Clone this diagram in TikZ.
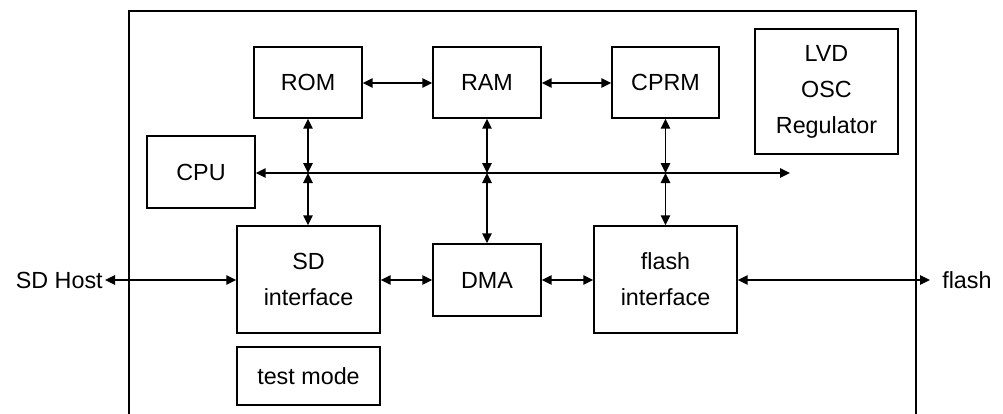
\documentclass[tikz,border=0pt]{standalone}
\usepackage{fontspec}
\setmainfont{Liberation Sans}
\usetikzlibrary{arrows.meta}
\usetikzlibrary{positioning}

\tikzset{
  blk/.style={draw, line width=1.1pt, align=center, inner sep=0pt,
    font=\fontsize{17.5}{27}\selectfont},
  lbl/.style={inner sep=0pt, font=\fontsize{17.5}{27}\selectfont},
  bus/.style={line width=1.2pt, {Triangle[length=7.5pt,width=7pt]}-{Triangle[length=7.5pt,width=7pt]}},
}

\begin{document}
\begin{tikzpicture}[x=0.75pt,y=0.75pt,yscale=-1,xscale=1]
\useasboundingbox (0,0) rectangle (1003,414);

%Outer frame (cut off at the bottom)
\draw [line width=1.1pt] (129,414) -- (129,11) -- (916,11) -- (916,414);

%Blocks
\node [blk, minimum width=81pt, minimum height=53.25pt] (rom) at (308,82.5) {ROM};
\node [blk, minimum width=81pt, minimum height=53.25pt] (ram) at (487,82.5) {RAM};
\node [blk, minimum width=80.25pt, minimum height=53.25pt] (cprm) at (665.5,82.5) {CPRM};
\node [blk, minimum width=107.25pt, minimum height=93.75pt] (lvd) at (826.5,91.5) {LVD\\OSC\\Regulator};
\node [blk, minimum width=81pt, minimum height=54pt] (cpu) at (201,172) {CPU};
\node [blk, minimum width=107.25pt, minimum height=80.25pt] (sdif) at (308.5,279.5) {SD\\interface};
\node [blk, minimum width=107.25pt, minimum height=43.5pt] (test) at (308.5,376) {test mode};
\node [blk, minimum width=81pt, minimum height=54pt] (dma) at (487,280) {DMA};
\node [blk, minimum width=107.25pt, minimum height=80.25pt] (flif) at (665.5,279.5) {flash\\interface};

%External labels
\node [lbl, anchor=east] (host) at (103,280) {SD Host};
\node [lbl, anchor=west] (flash) at (942,280) {flash};

%Bus junctions
\coordinate (jrom) at (rom.south |- 0,173);
\coordinate (jram) at (ram.south |- 0,173);
\coordinate (jcprm) at (cprm.south |- 0,173);
\coordinate (busend) at (790,173);

%Main bus
\draw [bus] (cpu.east |- jrom) -- (busend);

%Top row links
\draw [bus] (rom.east |- 0,83) -- (ram.west |- 0,83);
\draw [bus] (ram.east |- 0,83) -- (cprm.west |- 0,83);

%Vertical links to the bus
\draw [bus] (rom.south) -- (jrom);
\draw [bus] (jrom) -- (sdif.north -| jrom);
\draw [bus] (ram.south) -- (jram);
\draw [bus] (jram) -- (dma.north -| jram);
\draw [bus] (cprm.south) -- (jcprm);
\draw [bus] (jcprm) -- (flif.north -| jcprm);

%Bottom row links
\draw [bus] (host.east) ++(2,0) -- (sdif.west |- 0,280);
\draw [bus] (sdif.east |- 0,280) -- (dma.west |- 0,280);
\draw [bus] (dma.east |- 0,280) -- (flif.west |- 0,280);
\draw [bus] (flif.east |- 0,280) -- ([xshift=-9pt]flash.west);

\end{tikzpicture}
\end{document}
